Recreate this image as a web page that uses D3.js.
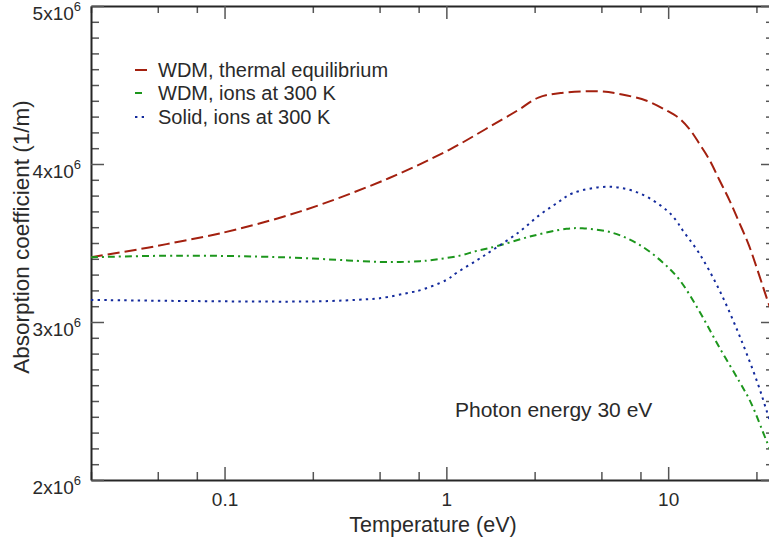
<!DOCTYPE html>
<html>
<head>
<meta charset="utf-8">
<script src="https://cdn.jsdelivr.net/npm/d3@7"></script>
<style>
  body { margin: 0; background: #fff; }
  svg { display: block; font-family: "Liberation Sans", Arial, sans-serif; }
  .axis path { stroke: #262626; stroke-width: 2; }
  .axis line { stroke: #555; stroke-width: 1.5; }
  .axis text { fill: #2a2a2a; font-size: 19px; font-family: "Liberation Sans", Arial, sans-serif; }
</style>
</head>
<body>
<div id="chart"></div>
<script>
// temperature (eV) and absorption coefficient (in units of 1e6 1/m)
const tempEquil = [0.025, 0.045, 0.063, 0.095, 0.22, 0.55, 1.03, 1.5, 2.1, 2.6, 3.3, 4.9, 6.2, 8.0, 9.8, 11.2, 12.5, 13.8, 15.3, 17.0, 18.9, 20.9, 23.2, 28.0, 30];
const absEquil  = [3.41, 3.47, 3.51, 3.56, 3.70, 3.91, 4.09, 4.22, 4.34, 4.42, 4.45, 4.46, 4.44, 4.40, 4.34, 4.29, 4.22, 4.13, 4.03, 3.90, 3.77, 3.63, 3.48, 3.14, 3.02];

const tempIons = [0.025, 0.063, 0.18, 0.36, 0.5, 0.62, 0.76, 0.84, 1.15, 1.37, 1.69, 2.37, 3.48, 4.1, 5.6, 7.4, 9.4, 11.2, 13.8, 17.0, 20.9, 23.6, 27.7, 30];
const absIons  = [3.41, 3.42, 3.41, 3.39, 3.38, 3.38, 3.385, 3.39, 3.42, 3.45, 3.48, 3.54, 3.59, 3.593, 3.565, 3.49, 3.38, 3.27, 3.07, 2.84, 2.625, 2.49, 2.25, 2.13];

const tempSolid = [0.025, 0.25, 0.44, 0.5, 0.705, 0.758, 1.0, 1.11, 1.37, 1.62, 2.14, 2.63, 3.14, 3.71, 5.44, 7.43, 9.82, 10.9, 11.6, 13.8, 17.0, 20.9, 25.3, 28.0, 30];
const absSolid  = [3.14, 3.13, 3.144, 3.15, 3.19, 3.20, 3.266, 3.31, 3.39, 3.456, 3.572, 3.677, 3.751, 3.815, 3.856, 3.815, 3.709, 3.64, 3.582, 3.435, 3.203, 2.918, 2.614, 2.424, 2.30];

const seriesNames = ["WDM, thermal equilibrium", "WDM, ions at 300 K", "Solid, ions at 300 K"];
const xMajor = [0.1, 1, 10];
const xMinor = [0.025, 0.05, 0.075, 0.25, 0.5, 0.75, 2.5, 5, 7.5, 25];
const yMajor = [2, 3, 4, 5];

const width = 769, height = 548;
const plotLeft = 91, plotRight = 774, plotTop = 6, plotBottom = 480;

const svg = d3.select("#chart").append("svg")
  .attr("width", width)
  .attr("height", height);

const x = d3.scaleLog().domain([0.025, 30]).range([plotLeft, plotRight]);
const y = d3.scaleLinear().domain([2, 5]).range([plotBottom, plotTop]);

const yMinor = d3.range(20, 51).map(d => d / 10).filter(d => !yMajor.includes(d));

svg.append("clipPath").attr("id", "plot-clip")
  .append("rect").attr("x", plotLeft).attr("y", plotTop)
  .attr("width", plotRight - plotLeft).attr("height", plotBottom - plotTop);

// minor ticks first, then major ticks with labels
svg.append("g").attr("class", "axis").attr("transform", `translate(0,${plotBottom})`)
  .call(d3.axisBottom(x).tickValues(xMinor).tickSize(-8).tickFormat(""))
  .select(".domain").remove();
svg.append("g").attr("class", "axis").attr("transform", `translate(0,${plotTop})`)
  .call(d3.axisTop(x).tickValues(xMinor).tickSize(-7).tickFormat(""))
  .select(".domain").remove();
svg.append("g").attr("class", "axis").attr("transform", `translate(${plotLeft},0)`)
  .call(d3.axisLeft(y).tickValues(yMinor).tickSize(-8).tickFormat(""))
  .select(".domain").remove();
svg.append("g").attr("class", "axis").attr("transform", `translate(${plotRight},0)`)
  .call(d3.axisRight(y).tickValues(yMinor).tickSize(-8).tickFormat(""))
  .select(".domain").remove();

svg.append("g").attr("class", "axis").attr("transform", `translate(0,${plotBottom})`)
  .call(d3.axisBottom(x).tickValues(xMajor).tickSize(-13).tickSizeOuter(0).tickPadding(13).tickFormat(d => String(d)));
svg.append("g").attr("class", "axis").attr("transform", `translate(0,${plotTop})`)
  .call(d3.axisTop(x).tickValues(xMajor).tickSize(-13).tickSizeOuter(0).tickFormat(""));
svg.append("g").attr("class", "axis").attr("transform", `translate(${plotRight},0)`)
  .call(d3.axisRight(y).tickValues(yMajor).tickSize(-13).tickSizeOuter(0).tickFormat(""));

const yAxis = svg.append("g").attr("class", "axis").attr("transform", `translate(${plotLeft},0)`)
  .call(d3.axisLeft(y).tickValues(yMajor).tickSize(-13).tickSizeOuter(0).tickPadding(10).tickFormat(""));

// y labels like 5x10^6
yAxis.selectAll(".tick text").each(function (d) {
  const t = d3.select(this);
  t.attr("dy", null).attr("y", 13);
  t.append("tspan").text(d + "x10");
  t.append("tspan").attr("dy", -9).attr("font-size", "13px").text("6");
});

const line = d3.line()
  .x(d => x(d[0]))
  .y(d => y(d[1]))
  .curve(d3.curveCatmullRom.alpha(0.5));

const series = [
  { t: tempEquil, v: absEquil, color: "#a3200f", dash: "12,5" },
  { t: tempIons, v: absIons, color: "#1c961c", dash: "7,4,2,4" },
  { t: tempSolid, v: absSolid, color: "#132a9c", dash: "2.4,4.3" }
];

const plot = svg.append("g").attr("clip-path", "url(#plot-clip)");
series.forEach(s => {
  plot.append("path")
    .datum(s.t.map((d, i) => [d, s.v[i]]))
    .attr("d", line)
    .attr("fill", "none")
    .attr("stroke", s.color)
    .attr("stroke-width", 2)
    .attr("stroke-dasharray", s.dash);
});

// legend
const legend = svg.append("g").attr("transform", "translate(135,0)");
const legendY = [70, 93, 117];
const sampleLen = [13, 7, 9];
series.forEach((s, i) => {
  legend.append("line")
    .attr("x1", 0).attr("x2", sampleLen[i])
    .attr("y1", legendY[i]).attr("y2", legendY[i])
    .attr("stroke", s.color).attr("stroke-width", 2)
    .attr("stroke-dasharray", s.dash);
  legend.append("text")
    .attr("x", 23).attr("y", legendY[i] + 7)
    .attr("font-size", 20).attr("fill", "#2a2a2a")
    .text(seriesNames[i]);
});

svg.append("text")
  .attr("x", 455).attr("y", 417)
  .attr("font-size", 21).attr("fill", "#2a2a2a")
  .text("Photon energy 30 eV");

svg.append("text")
  .attr("x", 433).attr("y", 532)
  .attr("text-anchor", "middle")
  .attr("font-size", 21.5).attr("fill", "#2a2a2a")
  .text("Temperature (eV)");

svg.append("text")
  .attr("transform", "translate(29,237) rotate(-90)")
  .attr("text-anchor", "middle")
  .attr("font-size", 22.5).attr("fill", "#2a2a2a")
  .text("Absorption coefficient (1/m)");
</script>
</body>
</html>
